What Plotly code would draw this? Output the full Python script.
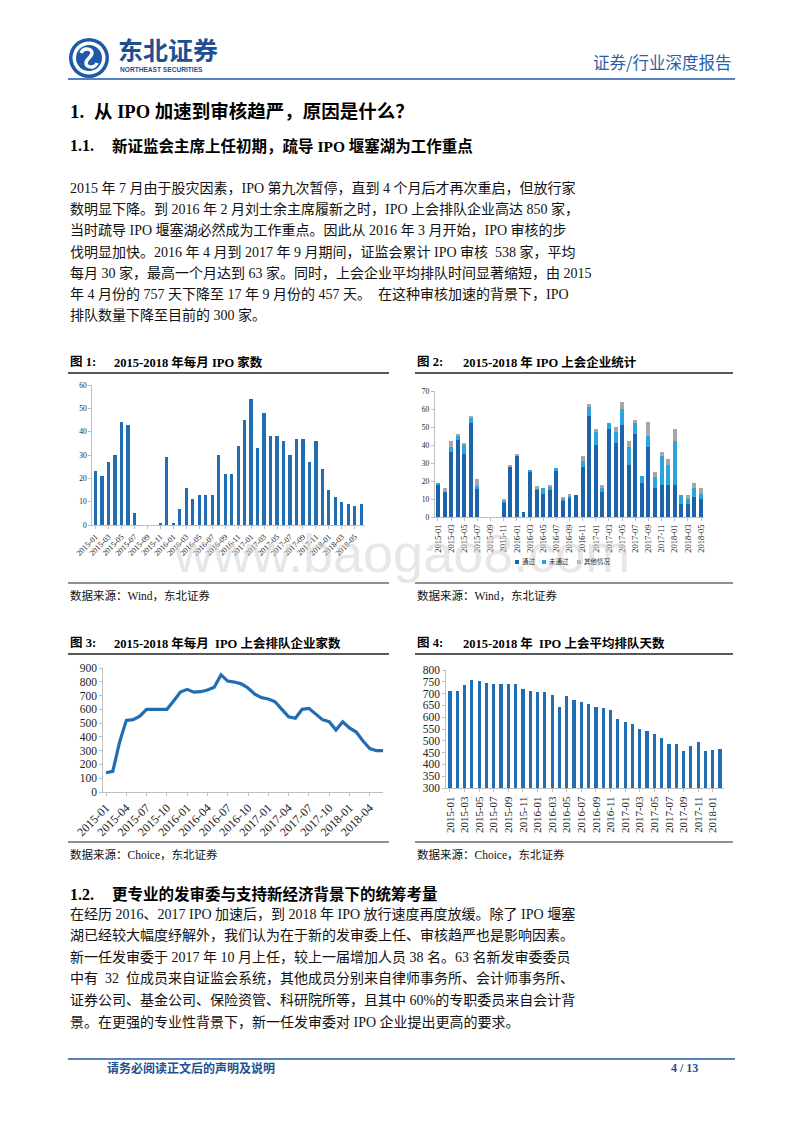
import plotly.graph_objects as go

W, H = 800, 1132
OX, OY = 8, 8  # page body margin offset of the rendered page

def px(x):
    return (x - OX) / W

def py(y):
    return 1 - (y - OY) / H

def month_labels(start_year, start_month, n):
    out = []
    y, m = start_year, start_month
    for _ in range(n):
        out.append(f"{y}-{m:02d}")
        m += 1
        if m > 12:
            m = 1
            y += 1
    return out

# ---------------- data ----------------
# Fig 1: monthly IPO count 2015-01 .. 2018-06
months1 = month_labels(2015, 1, 42)
ipo_count = [23, 21, 27, 30, 44, 43, 5, 0, 0, 0, 1, 29,
             1, 7, 16, 11, 13, 13, 13, 30, 22, 22, 34, 45,
             54, 33, 48, 38, 38, 36, 30, 37, 37, 27, 36, 24,
             15, 12, 10, 9, 8, 9]
ticks1 = months1[0:41:2]

# Fig 2: IPO review results 2015-01 .. 2018-05
months2 = month_labels(2015, 1, 41)
passed = [18, 14, 36, 43, 35, 52, 16, 0, 0, 0, 8, 28,
          34, 3, 25, 15, 13, 15, 26, 9, 11, 12, 28, 56,
          40, 14, 49, 41, 51, 29, 46, 19, 39, 16, 18, 18,
          18, 7, 7, 11, 10]
failed = [1, 0, 3, 2, 5, 3, 1, 0, 0, 0, 1, 0,
          0, 0, 1, 1, 3, 2, 1, 1, 1, 0, 3, 5,
          7, 2, 3, 6, 9, 10, 6, 4, 6, 6, 16, 11,
          24, 5, 3, 5, 3]
other = [0, 2, 3, 1, 1, 1, 4, 0, 0, 0, 1, 1,
         1, 0, 0, 1, 0, 1, 0, 1, 1, 0, 3, 2,
         2, 2, 0, 3, 4, 3, 2, 0, 8, 3, 2, 3,
         7, 0, 2, 3, 3]
series2_names = ["通过", "未通过", "其他情况"]
ticks2 = months2[0:41:2]

# Fig 3: IPO queue size 2015-01 .. 2018-06
months3 = month_labels(2015, 1, 42)
queue = [140, 150, 360, 520, 525, 550, 600, 600, 600, 600, 660, 725,
         745, 725, 728, 740, 760, 850, 805, 798, 785, 755, 710, 685,
         675, 655, 600, 545, 535, 600, 607, 565, 525, 510, 450, 510,
         465, 435, 370, 315, 300, 300]
ticks3 = months3[0:42:3]

# Fig 4: average queue days 2015-01 .. 2018-02
months4 = month_labels(2015, 1, 38)
days = [712, 712, 737, 757, 752, 745, 740, 740, 740, 740, 720, 712,
        705, 705, 695, 645, 688, 673, 665, 657, 643, 640, 630, 593,
        580, 570, 552, 542, 528, 513, 487, 485, 457, 480, 495, 457,
        461, 465]
ticks4 = months4[0:38:2]

# ---------------- styles ----------------
SERIF = "Liberation Serif, Noto Sans CJK SC, serif"
SANS = "Noto Sans CJK SC, Liberation Sans, sans-serif"
BLUE = "#1f6db3"
C_PASS = "#1b64ad"
C_FAIL = "#2aa4df"
C_OTHER = "#a6a6a6"
NAVY = "#1d4f91"
AXC = "#bfbfbf"

fig = go.Figure()

fig.add_trace(go.Bar(x=months1, y=ipo_count, marker_color=BLUE, width=0.5,
                     xaxis="x", yaxis="y", showlegend=False))

for vals, name, col in zip([passed, failed, other], series2_names, [C_PASS, C_FAIL, C_OTHER]):
    fig.add_trace(go.Bar(x=months2, y=vals, name=name, marker_color=col, width=0.6,
                         xaxis="x2", yaxis="y2", showlegend=False))

fig.add_trace(go.Scatter(x=months3, y=queue, mode="lines",
                         line=dict(color=BLUE, width=3.2),
                         xaxis="x3", yaxis="y3", showlegend=False))

fig.add_trace(go.Bar(x=months4, y=days, marker_color=BLUE, width=0.45,
                     xaxis="x4", yaxis="y4", showlegend=False))

def xax(dom, rng, tickvals, angle, size, anchor):
    return dict(domain=[px(dom[0]), px(dom[1])], range=rng, type="category",
                tickmode="array", tickvals=tickvals, ticktext=tickvals,
                tickangle=angle, tickfont=dict(family=SERIF, size=size, color="#222"),
                showline=True, linecolor=AXC, linewidth=1, ticks="outside",
                ticklen=3, tickcolor=AXC, showgrid=False, zeroline=False,
                anchor=anchor, fixedrange=True)

def yax(dom, rng, dtick, size, anchor):
    return dict(domain=[py(dom[0]), py(dom[1])], range=rng, dtick=dtick,
                tickfont=dict(family=SERIF, size=size, color="#222"),
                showline=True, linecolor=AXC, linewidth=1, ticks="outside",
                ticklen=3, tickcolor=AXC, showgrid=False, zeroline=False,
                anchor=anchor, fixedrange=True)

fig.update_layout(
    width=W, height=H, margin=dict(l=0, r=0, t=0, b=0),
    paper_bgcolor="white", plot_bgcolor="white", template="none",
    barmode="stack", showlegend=False,
    xaxis=xax((92.3, 364.5), [-0.5, 41.5], ticks1, -45, 8, "y"),
    yaxis=yax((525, 385), [0, 60], 10, 7.5, "x"),
    xaxis2=xax((434.7, 704.3), [-0.5, 40.5], ticks2, -90, 8.5, "y2"),
    yaxis2=yax((517, 391), [0, 70], 10, 7.5, "x2"),
    xaxis3=xax((103.3, 383.3), [-0.4, 41], ticks3, -45, 12, "y3"),
    yaxis3=yax((792, 668), [0, 900], 100, 11.5, "x3"),
    xaxis4=xax((446.3, 723.7), [-0.5, 37.5], ticks4, -90, 11, "y4"),
    yaxis4=yax((788, 670), [300, 800], 50, 11.5, "x4"),
)

shapes = []
ann = []

def line(x0, y0, x1, y1, color, width):
    shapes.append(dict(type="line", xref="paper", yref="paper",
                       x0=px(x0), y0=py(y0), x1=px(x1), y1=py(y1),
                       line=dict(color=color, width=width)))

def text(x, y, s, size, color="#000", family=SERIF, xanchor="left"):
    ann.append(dict(xref="paper", yref="paper", x=px(x), y=py(y), text=s,
                    showarrow=False, xanchor=xanchor, yanchor="middle",
                    font=dict(family=family, size=size, color=color)))

# watermark
ann.append(dict(xref="paper", yref="paper", x=px(401), y=py(553), text="www.baogao8.com",
                showarrow=False, xanchor="center", yanchor="middle", opacity=0.55,
                font=dict(family="Liberation Sans, Arial", size=54, color="#d4d4d4")))

# header logo
cx, cy = 89, 58
def circ(r, color):
    shapes.append(dict(type="circle", xref="paper", yref="paper",
                       x0=px(cx - r), x1=px(cx + r), y0=py(cy + r), y1=py(cy - r),
                       fillcolor=color, line=dict(width=0)))
circ(20, "#1e5aa8")
circ(16.5, "white")
circ(13, "#1e5aa8")
path_pts = [(81, 53), (84, 45), (98, 50), (89, 58), (80, 66), (94, 71), (97, 63)]
p = "M {:.5f},{:.5f} C {:.5f},{:.5f} {:.5f},{:.5f} {:.5f},{:.5f} C {:.5f},{:.5f} {:.5f},{:.5f} {:.5f},{:.5f}".format(
    *[v for pt in path_pts for v in (px(pt[0]), py(pt[1]))])
shapes.append(dict(type="path", xref="paper", yref="paper", path=p,
                   line=dict(color="white", width=3.5)))
text(116, 49, "<b>东北证券</b>", 25, NAVY, SANS)
text(118, 70, "<b>NORTHEAST SECURITIES</b>", 6.6, NAVY, "Liberation Sans, Arial")
text(733, 62, "证券/行业深度报告", 16.5, "#2a5fa5", SANS, xanchor="right")
line(68, 79, 735, 79, "#1e5aa8", 1.5)

# headings
text(68, 112, "<b>1.</b>", 19, "#000", SERIF)
text(92, 112, "<b>从 IPO 加速到审核趋严，原因是什么？</b>", 18.5, "#000", SERIF)
text(68, 146, "<b>1.1.</b>", 16, "#000", SERIF)
text(110, 146, "<b>新证监会主席上任初期，疏导 IPO 堰塞湖为工作重点</b>", 15.5, "#000", SERIF)

para1 = [
    "2015 年 7 月由于股灾因素，IPO 第九次暂停，直到 4 个月后才再次重启，但放行家",
    "数明显下降。到 2016 年 2 月刘士余主席履新之时，IPO 上会排队企业高达 850 家，",
    "当时疏导 IPO 堰塞湖必然成为工作重点。因此从 2016 年 3 月开始，IPO 审核的步",
    "伐明显加快。2016 年 4 月到 2017 年 9 月期间，证监会累计 IPO 审核  538 家，平均",
    "每月 30 家，最高一个月达到 63 家。同时，上会企业平均排队时间显著缩短，由 2015",
    "年 4 月份的 757 天下降至 17 年 9 月份的 457 天。  在这种审核加速的背景下，IPO",
    "排队数量下降至目前的 300 家。",
]
for i, s in enumerate(para1):
    text(68, 188 + i * 21.2, s, 14, "#111", SERIF)

# figure titles
def fig_title(x0, x1, y, num, s, xs):
    text(x0, y, f"<b>图 {num}:</b>", 12.5, "#000", SERIF)
    text(xs, y, f"<b>{s}</b>", 12.5, "#000", SERIF)
    line(x0, y + 11, x1, y + 11, "#595959", 1.8)

fig_title(68, 389, 362, 1, "2015-2018 年每月 IPO 家数", 112)
fig_title(415, 733, 362, 2, "2015-2018 年 IPO 上会企业统计", 461)
fig_title(68, 389, 643, 3, "2015-2018 年每月  IPO 上会排队企业家数", 112)
fig_title(415, 733, 643, 4, "2015-2018 年  IPO 上会平均排队天数", 461)

# sources
def source(x0, x1, y, s):
    line(x0, y - 12, x1, y - 12, "#222", 1)
    text(x0, y, s, 11.5, "#111", SERIF)

source(68, 389, 595, "数据来源：Wind，东北证券")
source(415, 733, 595, "数据来源：Wind，东北证券")
source(68, 389, 854, "数据来源：Choice，东北证券")
source(415, 733, 854, "数据来源：Choice，东北证券")

# legend for fig 2
leg_x = [517, 544, 579]
for lx, name, col in zip(leg_x, series2_names, [C_PASS, C_FAIL, C_OTHER]):
    shapes.append(dict(type="rect", xref="paper", yref="paper",
                       x0=px(lx - 2), x1=px(lx + 2), y0=py(564), y1=py(560),
                       fillcolor=col, line=dict(width=0)))
    text(lx + 3, 562, name, 6.5, "#333", SERIF)

# section 1.2
text(68, 894, "<b>1.2.</b>", 16, "#000", SERIF)
text(110, 894, "<b>更专业的发审委与支持新经济背景下的统筹考量</b>", 15.5, "#000", SERIF)
para2 = [
    "在经历 2016、2017 IPO 加速后，到 2018 年 IPO 放行速度再度放缓。除了 IPO 堰塞",
    "湖已经较大幅度纾解外，我们认为在于新的发审委上任、审核趋严也是影响因素。",
    "新一任发审委于 2017 年 10 月上任，较上一届增加人员 38 名。63 名新发审委委员",
    "中有  32  位成员来自证监会系统，其他成员分别来自律师事务所、会计师事务所、",
    "证券公司、基金公司、保险资管、科研院所等，且其中 60%的专职委员来自会计背",
    "景。在更强的专业性背景下，新一任发审委对 IPO 企业提出更高的要求。",
]
for i, s in enumerate(para2):
    text(68, 914 + i * 21.6, s, 14, "#111", SERIF)

# footer
line(68, 1059, 735, 1059, "#1e5aa8", 1.5)
text(105, 1068, "<b>请务必阅读正文后的声明及说明</b>", 12, NAVY, SERIF)
text(700, 1068, "<b>4 / 13</b>", 12, NAVY, SERIF, xanchor="right")

fig.update_layout(shapes=shapes, annotations=ann)
fig.write_html("out.html")
